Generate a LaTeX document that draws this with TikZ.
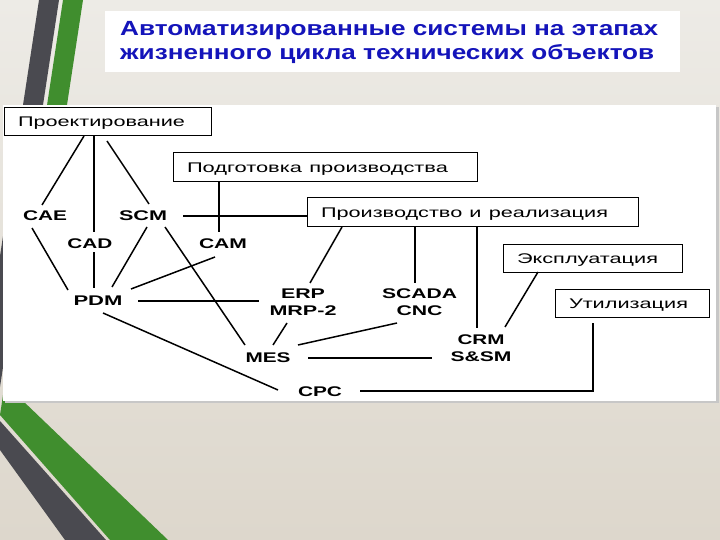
\documentclass[tikz,border=0pt]{standalone}
\usepackage{fontspec}
\setmainfont{Liberation Sans}
\usepackage{graphicx}
\definecolor{bgtop}{RGB}{237,235,230}
\definecolor{bgbot}{RGB}{221,215,204}
\definecolor{titleblue}{RGB}{20,20,186}
\definecolor{bardark}{RGB}{74,74,80}
\definecolor{bargreen}{RGB}{64,142,46}
\begin{document}
\begin{tikzpicture}[x=1pt,y=-1pt,
  box/.style={draw=black, line width=1pt, fill=white, inner xsep=14pt, inner ysep=0pt, align=left, text height=10pt, text depth=0pt, font=\fontsize{14}{17}\selectfont},
  lbl/.style={inner sep=0pt, text height=10pt, text depth=0pt, font=\fontsize{14}{17}\selectfont\bfseries},
  lbltwo/.style={inner sep=0pt, align=center, font=\fontsize{14}{17}\selectfont\bfseries},
  conn/.style={line width=1.5pt, draw=black}]
\useasboundingbox (0,0) rectangle (720,540);
\shade[top color=bgtop, bottom color=bgbot] (0,0) rectangle (720,540);
% decorative bars
\fill[bardark] (39,0) -- (59,0) -- (0,387) -- (0,256) -- cycle;
\fill[bardark] (0,421) -- (106,540) -- (65,540) -- (0,450) -- cycle;
\fill[bargreen] (63,0) -- (83,0) -- (22,400) -- (168,540) -- (110,540) -- (0,415) -- cycle;
% diagram panel
\fill[black!22] (5,107) rectangle (719,403);
\fill[white] (3,105) rectangle (716,401);
% title
\fill[white] (105,11) rectangle (680,72);
\node[anchor=base west, inner sep=0pt, text=titleblue, font=\fontsize{20.5}{24}\selectfont\bfseries] (t1) at (120,36) {\resizebox{538pt}{\height}{Автоматизированные системы на этапах}};
\node[anchor=base west, inner sep=0pt, text=titleblue, font=\fontsize{20.5}{24}\selectfont\bfseries] (t2) at (120,60) {\resizebox{534pt}{\height}{жизненного цикла технических объектов}};
% stage boxes
\node[box, minimum width=207pt, minimum height=28pt, text width=179pt] (pro) at (107.5,122) {\resizebox{167pt}{\height}{Проектирование}};
\node[box, minimum width=304pt, minimum height=29pt, text width=276pt] (pod) at (325,167.5) {\resizebox{261pt}{\height}{Подготовка производства}};
\node[box, minimum width=331pt, minimum height=29pt, text width=303pt] (prr) at (472.5,212.5) {\resizebox{287pt}{\height}{Производство и реализация}};
\node[box, minimum width=179pt, minimum height=28pt, text width=151pt] (exp) at (592.5,258) {\resizebox{141pt}{\height}{Эксплуатация}};
\node[box, minimum width=154pt, minimum height=28pt, text width=126pt] (uti) at (632,303) {\resizebox{119pt}{\height}{Утилизация}};
% system labels
\node[lbl] (cae) at (45,215.5) {\resizebox{44pt}{\height}{CAE}};
\node[lbl] (scm) at (143,215.5) {\resizebox{48pt}{\height}{SCM}};
\node[lbl] (cad) at (90,243) {\resizebox{45pt}{\height}{CAD}};
\node[lbl] (cam) at (223,243) {\resizebox{48pt}{\height}{CAM}};
\node[lbl] (pdm) at (98,300) {\resizebox{49pt}{\height}{PDM}};
\node[lbl] (mes) at (268,357) {\resizebox{45pt}{\height}{MES}};
\node[lbl] (cpc) at (320,391) {\resizebox{44pt}{\height}{CPC}};
\node[lbltwo] (erp) at (303,302.5) {\resizebox{44pt}{\height}{ERP}\\\resizebox{67pt}{\height}{MRP-2}};
\node[lbltwo] (scada) at (419.5,302.5) {\resizebox{75pt}{\height}{SCADA}\\\resizebox{46pt}{\height}{CNC}};
\node[lbltwo] (crm) at (481,348) {\resizebox{47pt}{\height}{CRM}\\\resizebox{61pt}{\height}{S\&SM}};
% connectors
\draw[conn] ([shift={(-23.5,14)}]pro.center) -- ([shift={(-3,-10.5)}]cae.center);
\draw[conn] ([shift={(-13.5,14)}]pro.center) -- ([shift={(4,-11)}]cad.center);
\draw[conn] ([shift={(-0.5,19)}]pro.center) -- ([shift={(6,-11.5)}]scm.center);
\draw[conn] ([shift={(-106,14.5)}]pod.center) -- ([shift={(-4,-11)}]cam.center);
\draw[conn] ([shift={(40,0.5)}]scm.center) -- ([shift={(-165.5,3.5)}]prr.center);
\draw[conn] ([shift={(-13,12.5)}]cae.center) -- ([shift={(-30,-10)}]pdm.center);
\draw[conn] ([shift={(4,9)}]cad.center) -- ([shift={(-4,-12)}]pdm.center);
\draw[conn] ([shift={(4,11.5)}]scm.center) -- ([shift={(14,-13)}]pdm.center);
\draw[conn] ([shift={(-8,14)}]cam.center) -- ([shift={(33,-11)}]pdm.center);
\draw[conn] ([shift={(22,11.5)}]scm.center) -- ([shift={(-23,-12)}]mes.center);
\draw[conn] ([shift={(-130.5,14.5)}]prr.center) -- ([shift={(7,-19.5)}]erp.center);
\draw[conn] ([shift={(-57.5,14.5)}]prr.center) -- ([shift={(-4.5,-19.5)}]scada.center);
\draw[conn] ([shift={(4.5,14.5)}]prr.center) -- ([shift={(-4,-20)}]crm.center);
\draw[conn] ([shift={(-54.5,14)}]exp.center) -- ([shift={(24,-21)}]crm.center);
\draw[conn] ([shift={(40,1)}]pdm.center) -- ([shift={(-44,-1.5)}]erp.center);
\draw[conn] ([shift={(-16,20.5)}]erp.center) -- ([shift={(5,-12)}]mes.center);
\draw[conn] ([shift={(-22.5,20.5)}]scada.center) -- ([shift={(30,-12)}]mes.center);
\draw[conn] ([shift={(40,1)}]mes.center) -- ([shift={(-49,10)}]crm.center);
\draw[conn] ([shift={(5,13)}]pdm.center) -- ([shift={(-42,-1)}]cpc.center);
\draw[conn] ([shift={(40,0)}]cpc.center) -| ([shift={(-39,20)}]uti.center);
\end{tikzpicture}
\end{document}
